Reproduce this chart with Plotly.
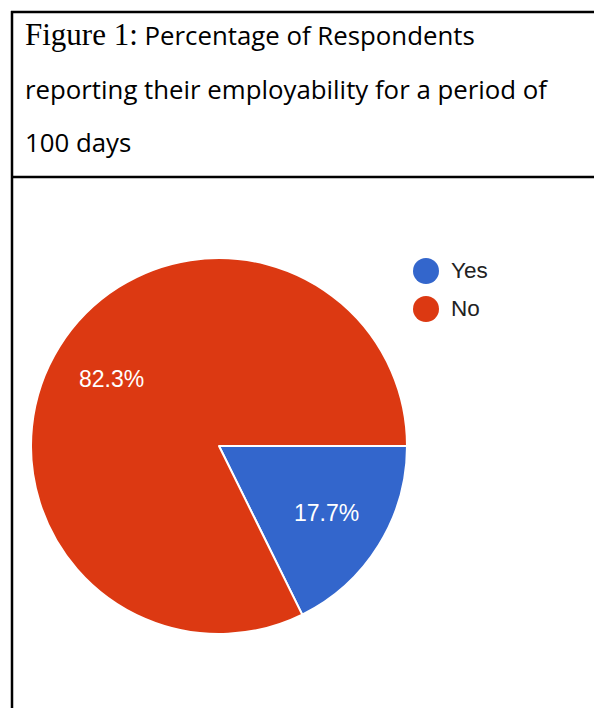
import plotly.graph_objects as go
import math

# ---- data ----
labels = ["Yes", "No"]
values = [17.7, 82.3]
colors = ["#3366CC", "#DC3912"]
title_lines = [
    '<span style="font-family:\'Liberation Serif\', serif; font-size:31px">Figure 1:</span> Percentage of Respondents',
    "reporting their employability for a period of",
    "100 days",
]

W, H = 594, 708
cx, cy, R = 219, 446, 188  # pie centre / radius in px


def px(x):
    return x / W


def py(y):
    return 1 - y / H


fig = go.Figure()
fig.add_trace(go.Pie(
    labels=labels, values=values, sort=False, direction="clockwise", rotation=90,
    marker=dict(colors=colors, line=dict(color="white", width=2)),
    textinfo="none", hoverinfo="label+percent", showlegend=False,
    domain=dict(x=[px(cx - R), px(cx + R)], y=[py(cy + R), py(cy - R)]),
))

annotations = []
shapes = []

# slice labels placed along each slice's mid angle
total = sum(values)
cum = 0.0
for v in values:
    mid = (cum + v / 2) / total * 2 * math.pi
    cum += v
    lx = cx + 0.675 * R * math.cos(-mid)
    ly = cy - 0.675 * R * math.sin(-mid)
    annotations.append(dict(
        x=px(lx), y=py(ly), xref="paper", yref="paper", showarrow=False,
        text=f"{v / total * 100:.1f}%", xanchor="center", yanchor="middle",
        font=dict(family="Liberation Sans, Arial", size=23, color="white"),
    ))

# legend
for i, (lab, col) in enumerate(zip(labels, colors)):
    ly = 271 + i * 38
    shapes.append(dict(type="circle", xref="paper", yref="paper",
                       x0=px(413), x1=px(439), y0=py(ly + 13), y1=py(ly - 13),
                       fillcolor=col, line=dict(width=0)))
    annotations.append(dict(
        x=px(449), y=py(ly), xref="paper", yref="paper", showarrow=False,
        text=lab, xanchor="left", yanchor="middle",
        font=dict(family="Liberation Sans, Arial", size=22.5, color="#222222"),
    ))

# title lines
for i, t in enumerate(title_lines):
    annotations.append(dict(
        x=px(23), y=py(35 + i * 53.5), xref="paper", yref="paper", showarrow=False,
        text=t, xanchor="left", yanchor="middle",
        font=dict(family="Open Sans, Noto Sans, sans-serif", size=25.8, color="#000000"),
    ))

# table borders
for s in [
    dict(x0=12, x1=12, y0=11, y1=H + 5),
    dict(x0=11, x1=W + 5, y0=12, y1=12),
    dict(x0=11, x1=W + 5, y0=177, y1=177),
]:
    shapes.append(dict(type="line", xref="paper", yref="paper",
                       x0=px(s["x0"]), x1=px(s["x1"]), y0=py(s["y0"]), y1=py(s["y1"]),
                       line=dict(color="black", width=2.5)))

fig.update_layout(
    width=W, height=H, margin=dict(l=0, r=0, t=0, b=0),
    paper_bgcolor="white", plot_bgcolor="white",
    annotations=annotations, shapes=shapes,
)
fig.write_html("out.html")
